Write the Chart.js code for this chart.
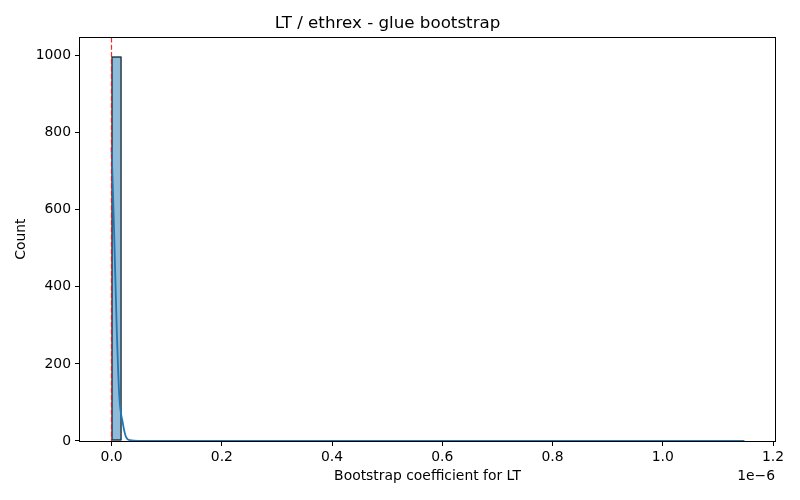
<!DOCTYPE html>
<html>
<head>
<meta charset="utf-8">
<script src="https://cdn.jsdelivr.net/npm/chart.js@4.4.1/dist/chart.umd.min.js"></script>
<style>
  html, body { margin: 0; padding: 0; background: #fff; }
  #chart { display: block; }
</style>
</head>
<body>
<canvas id="chart" width="800" height="500"></canvas>
<script>
// values in units of 1e-6
var binStart = 0;
var binWidth = 0.017914;
var binCounts = [
  997, 0, 0, 0, 0, 0, 0, 0, 0, 0, 0, 0, 1, 1, 0, 0,
  0, 0, 0, 0, 0, 0, 0, 0, 0, 0, 0, 0, 0, 0, 0, 0,
  0, 0, 0, 0, 0, 0, 0, 0, 0, 0, 0, 0, 0, 0, 0, 0,
  0, 0, 0, 0, 0, 0, 0, 0, 0, 0, 0, 0, 0, 0, 0, 1
];

var kdeX = [0, 0.0045, 0.0094, 0.0141, 0.0203, 0.0263, 0.0335, 0.05, 0.1, 0.22, 0.5, 0.8, 1.0, 1.148];
var kdeY = [761, 548, 288, 114, 47, 10, 2, 0.3, 0, 0.4, 0, 0, 0, 0.3];

var xTicks = [0, 0.2, 0.4, 0.6, 0.8, 1.0, 1.2];
var yTicks = [0, 200, 400, 600, 800, 1000];
var xRange = [-0.0573, 1.2035];
var yRange = [0, 1047];
var refLineX = 0;

var titleText = 'LT / ethrex - glue bootstrap';
var xLabel = 'Bootstrap coefficient for LT';
var yLabel = 'Count';
var offsetText = '1e\u22126';

var FONT = 'DejaVu Sans';

// empty bins get no bar (matplotlib's zero-height edges are invisible anyway)
var histData = binCounts.map(function (c, i) {
  return { x: binStart + binWidth * (i + 0.5), y: c > 0 ? c : null };
});
var kdeData = kdeX.map(function (x, i) {
  return { x: x, y: kdeY[i] };
});

// spines, reference line and the 1e-6 offset label
var extras = {
  id: 'extras',
  afterDatasetsDraw: function (chart) {
    var ctx = chart.ctx;
    var a = chart.chartArea;
    var px = Math.round(chart.scales.x.getPixelForValue(refLineX)) - 0.5;
    ctx.save();
    ctx.strokeStyle = 'rgba(235,20,20,0.9)';
    ctx.lineWidth = 1.2;
    ctx.setLineDash([5.1, 2.2]);
    ctx.beginPath();
    ctx.moveTo(px, a.top);
    ctx.lineTo(px, a.bottom);
    ctx.stroke();
    ctx.restore();
  },
  afterDraw: function (chart) {
    var ctx = chart.ctx;
    var a = chart.chartArea;
    ctx.save();
    ctx.strokeStyle = '#000';
    ctx.lineWidth = 1;
    ctx.strokeRect(Math.round(a.left) - 0.5, Math.round(a.top) + 0.5,
      Math.round(a.right - a.left) + 1, Math.round(a.bottom - a.top));
    ctx.fillStyle = '#000';
    ctx.font = '13.9px "' + FONT + '"';
    ctx.textAlign = 'right';
    ctx.textBaseline = 'middle';
    ctx.fillText(offsetText, a.right, 476);
    ctx.restore();
  }
};

new Chart(document.getElementById('chart'), {
  type: 'bar',
  data: {
    datasets: [{
      type: 'line',
      data: kdeData,
      borderColor: '#1f77b4',
      borderWidth: 1.8,
      pointRadius: 0,
      cubicInterpolationMode: 'monotone',
      order: 0
    }, {
      type: 'bar',
      data: histData,
      backgroundColor: 'rgba(31,119,180,0.5)',
      borderColor: '#000',
      borderWidth: 0.8,
      borderSkipped: false,
      barPercentage: 1,
      categoryPercentage: 1,
      order: 1
    }]
  },
  options: {
    responsive: false,
    animation: false,
    devicePixelRatio: 1,
    layout: { padding: { left: 0, right: 25, top: 0, bottom: 0 } },
    plugins: {
      legend: { display: false },
      tooltip: { enabled: false },
      title: {
        display: true,
        text: titleText,
        color: '#000',
        font: { family: FONT, size: 16.7, weight: 'normal' },
        padding: { top: 13.2, bottom: 4.1 }
      }
    },
    scales: {
      x: {
        type: 'linear',
        offset: false,
        min: xRange[0],
        max: xRange[1],
        afterFit: function (s) { s.height = 59; },
        afterBuildTicks: function (s) {
          s.ticks = xTicks.map(function (v) { return { value: v }; });
        },
        ticks: {
          color: '#000',
          font: { family: FONT, size: 13.9 },
          padding: 3,
          maxRotation: 0,
          autoSkip: false,
          callback: function (v) { return v.toFixed(1); }
        },
        grid: { offset: false, drawOnChartArea: false, drawTicks: true, tickLength: 5, color: '#000' },
        border: { display: false },
        title: {
          display: true,
          text: xLabel,
          color: '#000',
          font: { family: FONT, size: 13.9 },
          padding: { top: 15, bottom: 15 }
        }
      },
      y: {
        min: yRange[0],
        max: yRange[1],
        afterFit: function (s) { s.width = 80; },
        afterBuildTicks: function (s) {
          s.ticks = yTicks.map(function (v) { return { value: v }; });
        },
        ticks: {
          color: '#000',
          font: { family: FONT, size: 13.9 },
          padding: 4,
          autoSkip: false,
          callback: function (v) { return String(v); }
        },
        grid: { offset: false, drawOnChartArea: false, drawTicks: true, tickLength: 5, color: '#000' },
        border: { display: false },
        title: {
          display: true,
          text: yLabel,
          color: '#000',
          font: { family: FONT, size: 13.9 },
          padding: { top: 12.7, bottom: 12.7 }
        }
      }
    }
  },
  plugins: [extras]
});
</script>
</body>
</html>
